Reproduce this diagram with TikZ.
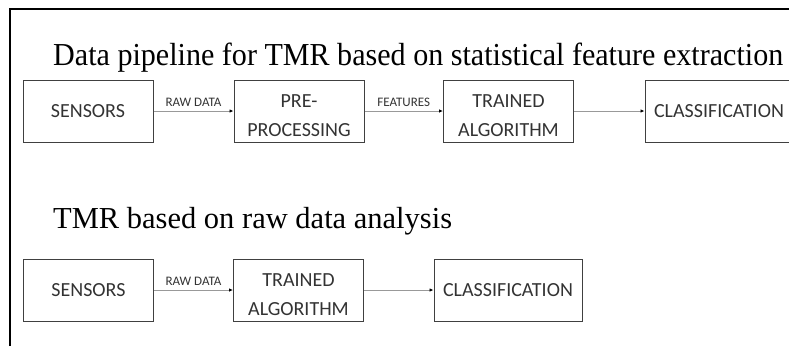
\documentclass[tikz,border=0pt]{standalone}
\usepackage{fontspec}
\setmainfont{Liberation Serif}
\newfontfamily\boxfont{Carlito}
\usetikzlibrary{arrows.meta}
\newcommand\twolines[2]{\raisebox{-5pt}[\height][\depth]{\begin{tabular}{@{}c@{}}#1\\#2\end{tabular}}}
\tikzset{
  blk/.style={draw=black!75, line width=1pt, minimum height=62pt, align=center,
    font=\boxfont\fontsize{20}{29}\selectfont, text=black!80, inner sep=0pt},
  flow/.style={draw=black!40, line width=0.9pt, -{Latex[color=black,length=4pt,width=3.5pt]}},
  lbl/.style={font=\boxfont\fontsize{13}{14}\selectfont, text=black!80, above=4pt, inner sep=0pt},
  ttl/.style={anchor=base west, inner sep=0pt},
}
\begin{document}
\begin{tikzpicture}[x=1pt,y=1pt]
\useasboundingbox (0,0) rectangle (789,-346);
% frame (open to the right and bottom)
\draw[line width=1.2pt] (10,-346) -- (10,-9) -- (789,-9);

% pipeline with feature extraction
\node[ttl, font=\fontsize{32}{36}\selectfont] (title1) at (53,-65)
  {\scalebox{0.94}[1]{Data pipeline for TMR based on statistical feature extraction}};
\node[blk, minimum width=130pt] (sens1) at (88,-111) {SENSORS};
\node[blk, minimum width=130pt] (pre1) at (299,-111) {\twolines{PRE-}{PROCESSING}};
\node[blk, minimum width=130pt] (alg1) at (508.5,-111) {\twolines{TRAINED}{ALGORITHM}};
\node[blk, minimum width=148pt] (cls1) at (719,-111) {CLASSIFICATION};
\draw[flow] (sens1) -- node[lbl] {RAW DATA} (pre1);
\draw[flow] (pre1) -- node[lbl] {FEATURES} (alg1);
\draw[flow] (alg1) -- (cls1);

% pipeline on raw data
\node[ttl, font=\fontsize{30.5}{34}\selectfont] (title2) at (53,-228)
  {TMR based on raw data analysis};
\node[blk, minimum width=130pt] (sens2) at (88.5,-290) {SENSORS};
\node[blk, minimum width=130pt] (alg2) at (298.5,-290) {\twolines{TRAINED}{ALGORITHM}};
\node[blk, minimum width=148pt] (cls2) at (508,-290) {CLASSIFICATION};
\draw[flow] (sens2) -- node[lbl] {RAW DATA} (alg2);
\draw[flow] (alg2) -- (cls2);
\end{tikzpicture}
\end{document}
